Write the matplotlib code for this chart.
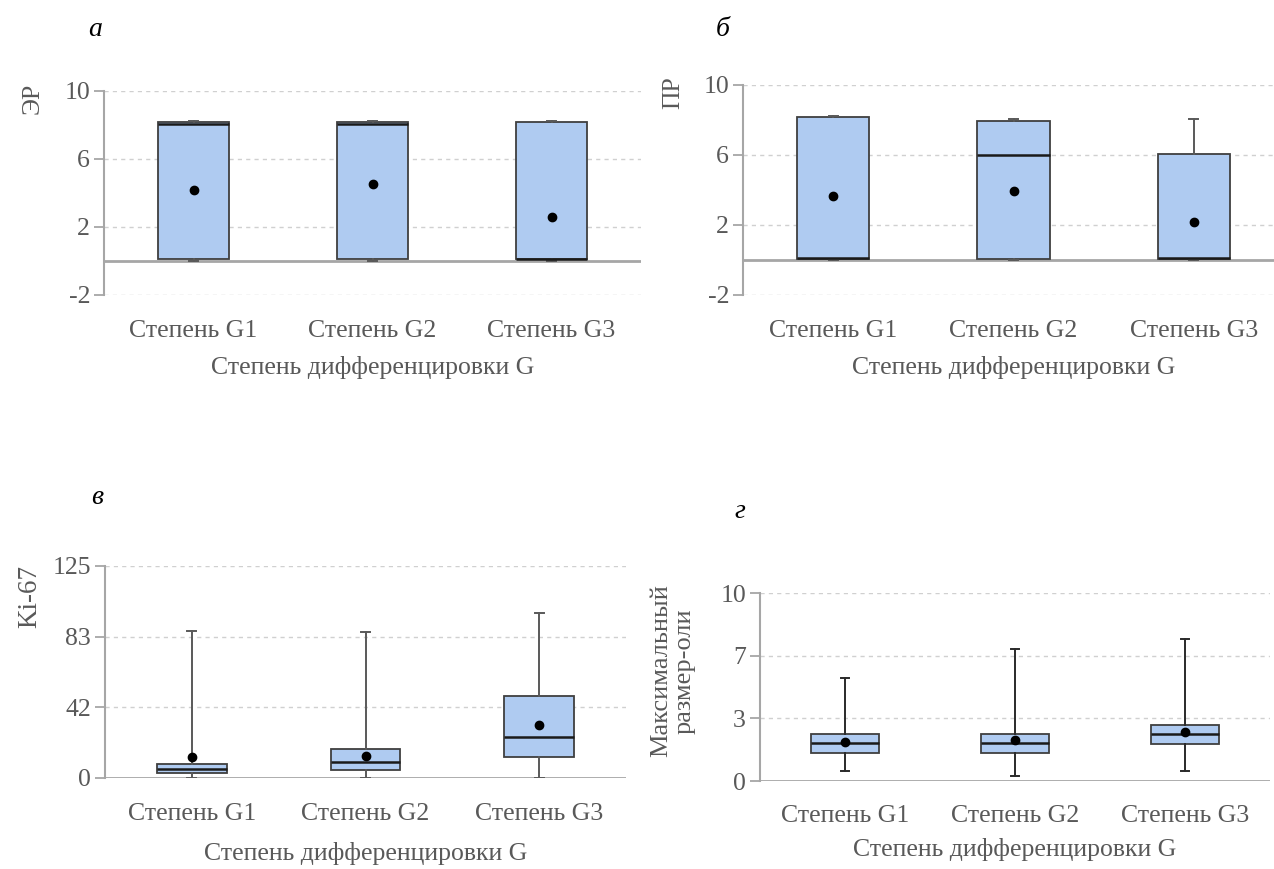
import matplotlib
matplotlib.use("Agg")
import matplotlib.pyplot as plt

plt.rcParams['font.family'] = ['Liberation Serif', 'DejaVu Serif']

categories = ["Степень G1", "Степень G2", "Степень G3"]
x_title = "Степень дифференцировки G"

# ЭР
er_whislo = [0.0, 0.0, 0.0]
er_q1 = [0.1, 0.1, 0.1]
er_med = [8.03, 8.03, 0.13]
er_q3 = [8.15, 8.15, 8.15]
er_whishi = [8.25, 8.25, 8.25]
er_mean = [4.15, 4.5, 2.6]

# ПР
pr_whislo = [0.0, 0.0, 0.0]
pr_q1 = [0.08, 0.08, 0.08]
pr_med = [0.13, 6.0, 0.1]
pr_q3 = [8.15, 7.95, 6.05]
pr_whishi = [8.25, 8.05, 8.08]
pr_mean = [3.63, 3.97, 2.15]

# Ki-67
ki_whislo = [0.0, 0.0, 0.0]
ki_q1 = [2.8, 4.5, 12.2]
ki_med = [5.3, 9.5, 24.1]
ki_q3 = [8.3, 17.0, 48.5]
ki_whishi = [86.6, 85.8, 97.2]
ki_mean = [12.2, 12.8, 31.3]

# Максимальный размер
sz_whislo = [0.53, 0.27, 0.53]
sz_q1 = [1.51, 1.51, 1.99]
sz_med = [2.01, 2.01, 2.50]
sz_q3 = [2.50, 2.50, 2.98]
sz_whishi = [5.49, 7.02, 7.53]
sz_mean = [2.08, 2.18, 2.61]

er_ticks, er_labels = [-2, 2, 6, 10], ["-2", "2", "6", "10"]
pr_ticks, pr_labels = [-2, 2, 6, 10], ["-2", "2", "6", "10"]
ki_ticks, ki_labels = [0, 125 / 3, 250 / 3, 125], ["0", "42", "83", "125"]
sz_ticks, sz_labels = [0, 10 / 3, 20 / 3, 10], ["0", "3", "7", "10"]

W, H = 1274, 869
fig = plt.figure(figsize=(W / 100, H / 100), dpi=100)

GRAY_TXT = "#595959"
FILL = "#AFCBF1"


def px_axes(left, top, right, bottom):
    return fig.add_axes([left / W, 1 - bottom / H, (right - left) / W, (bottom - top) / H])


def draw_panel(ax, lo, q1, med, q3, hi, mean, ticks, labels, ylim, whisk_color,
               tick_pad=18, title_pad=10):
    stats = [dict(whislo=a, q1=b, med=c, q3=d, whishi=e, mean=f, label=n)
             for a, b, c, d, e, f, n in zip(lo, q1, med, q3, hi, mean, categories)]
    ax.bxp(stats, positions=[1, 2, 3], widths=0.4, capwidths=0.05,
           showmeans=True, showfliers=False, patch_artist=True,
           boxprops=dict(facecolor=FILL, edgecolor="#3F3F3F", linewidth=1.3),
           medianprops=dict(color="#1A1A1A", linewidth=1.8),
           whiskerprops=dict(color=whisk_color, linewidth=1.4),
           capprops=dict(color=whisk_color, linewidth=1.4),
           meanprops=dict(marker="o", markerfacecolor="black", markeredgecolor="black",
                          markersize=6),
           zorder=3)
    ax.set_xlim(0.5, 3.5)
    ax.set_ylim(*ylim)
    ax.set_yticks(ticks)
    ax.set_yticklabels(labels)
    for t in ticks:
        if t != 0:
            ax.axhline(t, color="#D0D0D0", linewidth=1.0, linestyle=(0, (3, 3)), zorder=1)
    ax.axhline(0, color="#A6A6A6", linewidth=2.0, zorder=2)
    for s in ("top", "right", "bottom"):
        ax.spines[s].set_visible(False)
    ax.spines["left"].set_color("#A6A6A6")
    ax.spines["left"].set_linewidth(1.5)
    ax.tick_params(axis="y", colors="#A6A6A6", labelcolor=GRAY_TXT, labelsize=18.5,
                   length=7, width=1.3, pad=3)
    ax.tick_params(axis="x", length=0, labelcolor=GRAY_TXT, labelsize=18.5, pad=tick_pad)
    ax.set_xticks([1, 2, 3])
    ax.set_xticklabels(categories)
    ax.set_xlabel(x_title, color=GRAY_TXT, fontsize=18.5, labelpad=title_pad)
    ax.set_facecolor("none")


ax_a = px_axes(104, 91, 641, 295)
draw_panel(ax_a, er_whislo, er_q1, er_med, er_q3, er_whishi, er_mean,
           er_ticks, er_labels, (-2, 10), "#595959", tick_pad=18, title_pad=10)

ax_b = px_axes(743, 85, 1284, 295)
draw_panel(ax_b, pr_whislo, pr_q1, pr_med, pr_q3, pr_whishi, pr_mean,
           pr_ticks, pr_labels, (-2, 10), "#595959", tick_pad=18, title_pad=10)

ax_c = px_axes(105, 566, 626, 778)
draw_panel(ax_c, ki_whislo, ki_q1, ki_med, ki_q3, ki_whishi, ki_mean,
           ki_ticks, ki_labels, (0, 125), "#595959", tick_pad=18, title_pad=12)

ax_d = px_axes(760, 593, 1270, 781)
draw_panel(ax_d, sz_whislo, sz_q1, sz_med, sz_q3, sz_whishi, sz_mean,
           sz_ticks, sz_labels, (0, 10), "#2A2A2A", tick_pad=17, title_pad=8)

# y-axis titles
fig.text(33 / W, 1 - 98 / H, "ЭР", rotation=90, ha="center", va="center",
         color=GRAY_TXT, fontsize=18.5)
fig.text(673 / W, 1 - 93 / H, "ПР", rotation=90, ha="center", va="center",
         color=GRAY_TXT, fontsize=18.5)
fig.text(30 / W, 1 - 597 / H, "Ki-67", rotation=90, ha="center", va="center",
         color=GRAY_TXT, fontsize=19.5)
fig.text(673 / W, 1 - 671 / H, "Максимальный\nразмер-оли", rotation=90, ha="center",
         va="center", color=GRAY_TXT, fontsize=19, multialignment="center",
         linespacing=1.05)

# panel letters
for lx, ly, s in [(95, 30, "а"), (723, 30, "б"), (97, 497, "в"), (740, 512, "г")]:
    fig.text(lx / W, 1 - ly / H, s, ha="center", va="center", fontsize=20,
             style="italic", color="black")

fig.savefig("out.png", dpi=100, facecolor="white")
